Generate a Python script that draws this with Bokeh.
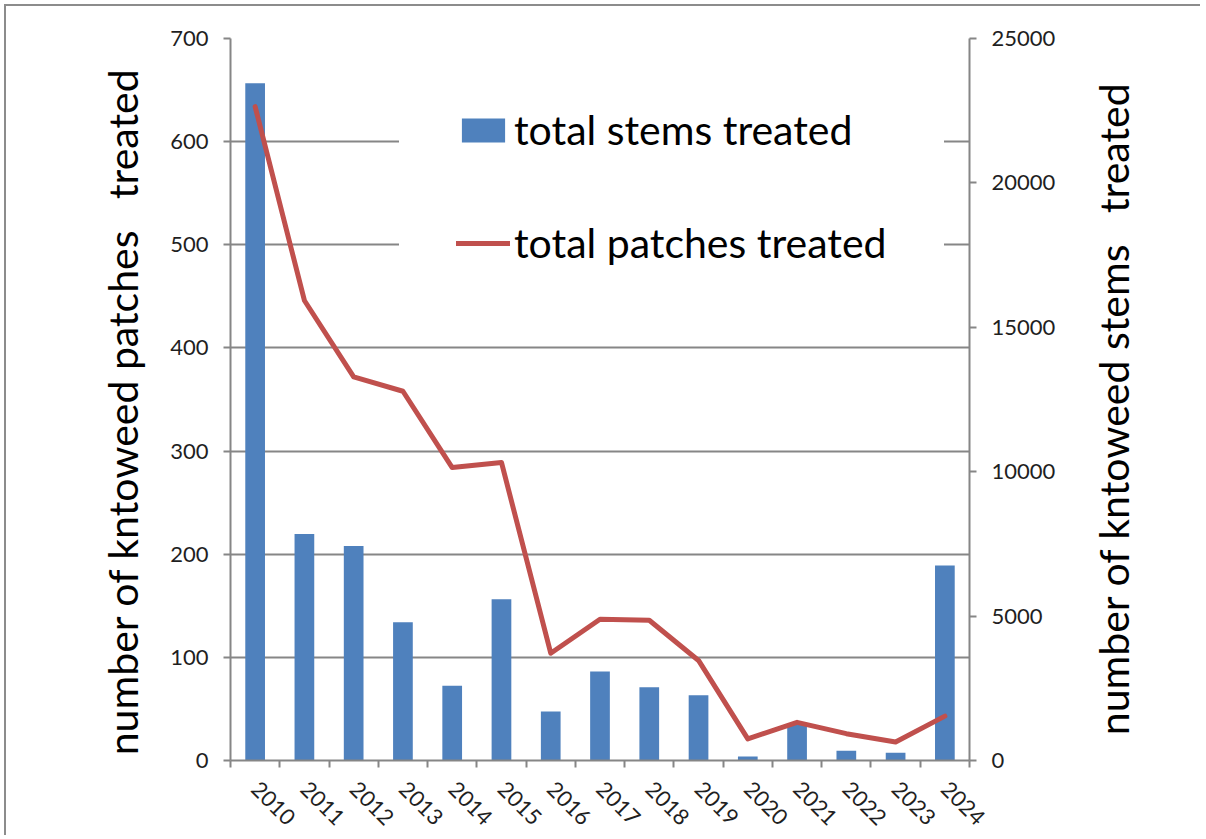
import math
from bokeh.plotting import figure
from bokeh.layouts import row
from bokeh.models import (FactorRange, Range1d, LinearAxis, CategoricalAxis, FixedTicker,
                          Legend, LegendItem, ColumnDataSource)
from bokeh.embed import file_html
from bokeh.resources import INLINE

years = ["2010", "2011", "2012", "2013", "2014", "2015", "2016", "2017",
         "2018", "2019", "2020", "2021", "2022", "2023", "2024"]
stems_treated = [23450, 7840, 7430, 4790, 2590, 5580, 1700, 3080,
                 2540, 2260, 140, 1250, 340, 270, 6750]
patches_treated = [634, 446, 372, 358, 284, 289, 104, 137,
                   136, 97, 21, 37, 26, 18, 43]
left_ticks = [0, 100, 200, 300, 400, 500, 600, 700]
right_ticks = [0, 5000, 10000, 15000, 20000, 25000]
legend_labels = ["total stems treated", "total patches treated"]
left_title = "number of kntoweed patches \u00a0 treated"
right_title = "number of kntoweed stems \u00a0 treated"

FONT = "Lato"
GREY = "#868686"
TXT = "#1f1f1f"
TOTAL_H = 826

source = ColumnDataSource(dict(year=years, stems=stems_treated, patches=patches_treated))

# ---------------- main chart ----------------
p = figure(x_range=FactorRange(factors=years, range_padding=0),
           y_range=Range1d(left_ticks[0], left_ticks[-1]),
           frame_width=739, frame_height=722,
           min_border_left=83, min_border_right=90,
           min_border_top=32, min_border_bottom=72,
           output_backend="svg", toolbar_location=None,
           x_axis_location=None)
p.frame_align = False
p.extra_y_ranges = {"stems": Range1d(right_ticks[0], right_ticks[-1])}
p.outline_line_color = None
p.background_fill_color = "white"
p.border_fill_color = "white"
p.xgrid.visible = False


def style_axis(ax):
    ax.axis_line_color = GREY
    ax.axis_line_width = 2
    ax.major_tick_line_color = GREY
    ax.major_tick_line_width = 2
    ax.major_tick_out = 7
    ax.major_tick_in = 0
    ax.minor_tick_line_color = None
    ax.major_label_text_font = FONT
    ax.major_label_text_font_size = "22px"
    ax.major_label_text_color = TXT
    ax.axis_label_text_font = FONT
    ax.axis_label_text_font_size = "41px"
    ax.axis_label_text_font_style = "normal"
    ax.axis_label_text_color = "black"


ly = p.yaxis[0]
ly.ticker = FixedTicker(ticks=left_ticks)
style_axis(ly)
ly.major_label_standoff = 15

p.ygrid.grid_line_color = GREY
p.ygrid.grid_line_width = 2

ry = LinearAxis(y_range_name="stems", ticker=FixedTicker(ticks=right_ticks))
style_axis(ry)
ry.major_label_standoff = 15
p.add_layout(ry, "right")

tick_ax = LinearAxis(ticker=FixedTicker(ticks=list(range(len(years) + 1))))
style_axis(tick_ax)
tick_ax.major_label_text_font_size = "1px"
tick_ax.major_label_text_alpha = 0
tick_ax.major_label_standoff = 0
p.add_layout(tick_ax, "below")

cat_ax = CategoricalAxis()
style_axis(cat_ax)
cat_ax.axis_line_color = None
cat_ax.major_tick_line_color = None
cat_ax.major_tick_out = 0
cat_ax.major_label_standoff = 18
cat_ax.major_label_orientation = -math.pi / 4
p.add_layout(cat_ax, "below")

r_bar = p.vbar(x="year", top="stems", width=0.4, source=source, y_range_name="stems",
               fill_color="#4F81BD", line_color=None)
r_line = p.line(x="year", y="patches", source=source, line_color="#C0504D",
                line_width=5, line_join="round", line_cap="round")

legend = Legend(items=[LegendItem(label=legend_labels[0], renderers=[r_bar]),
                       LegendItem(label=legend_labels[1], renderers=[r_line])],
                location=(169, 436), orientation="vertical",
                padding=56, margin=0, spacing=64, label_height=48,
                glyph_height=30, glyph_width=54, label_standoff=4,
                label_text_font=FONT, label_text_font_size="41px",
                label_text_color="black",
                border_line_color="white", border_line_width=1,
                background_fill_color="white", background_fill_alpha=1.0)
p.add_layout(legend, "center")


# ---------------- side panels carrying the axis titles ----------------
def title_panel(text, border_left, border_right, top, frame_h):
    q = figure(frame_width=1, frame_height=frame_h,
               min_border_left=border_left, min_border_right=border_right,
               min_border_top=top, min_border_bottom=TOTAL_H - top - frame_h,
               output_backend="svg", toolbar_location=None,
               x_axis_location=None, y_range=Range1d(0, 1), x_range=Range1d(0, 1))
    q.frame_align = False
    q.outline_line_color = None
    q.border_fill_color = "white"
    q.background_fill_color = "white"
    q.grid.visible = False
    ax = q.yaxis[0]
    ax.ticker = FixedTicker(ticks=[])
    ax.axis_line_color = None
    ax.major_tick_line_color = None
    ax.minor_tick_line_color = None
    ax.major_tick_out = 0
    ax.major_label_standoff = 0
    ax.axis_label = text
    ax.axis_label_standoff = 0
    ax.axis_label_text_font = FONT
    ax.axis_label_text_font_size = "41px"
    ax.axis_label_text_font_style = "normal"
    ax.axis_label_text_color = "black"
    return q


p_left = title_panel(left_title, 140, 0, 56, 698)
p_right = title_panel(right_title, 78, 62, 50, 704)

layout = row(p_left, p, p_right, spacing=0,
             styles={"border-left": "2px solid #8c8c8c", "border-top": "2px solid #8c8c8c",
                     "margin-left": "4px", "margin-top": "4px"})

open("out.html", "w").write(file_html(layout, INLINE))
